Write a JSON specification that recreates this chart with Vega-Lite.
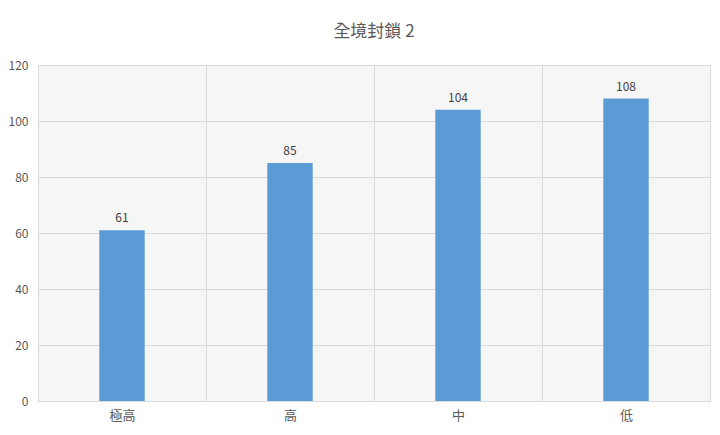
{
  "$schema": "https://vega.github.io/schema/vega-lite/v6.json",
  "description": "全境封鎖 2",
  "autosize": "none",
  "width": 672,
  "height": 336,
  "padding": {"left": 38, "top": 65, "right": 10, "bottom": 34},
  "background": "white",
  "title": {
    "text": "全境封鎖 2",
    "font": "Noto Sans CJK TC",
    "fontSize": 17,
    "fontWeight": "normal",
    "color": "#595959",
    "offset": 18
  },
  "data": {
    "values": [
      {"level": "極高", "count": 61},
      {"level": "高", "count": 85},
      {"level": "中", "count": 104},
      {"level": "低", "count": 108}
    ]
  },
  "encoding": {
    "x": {
      "field": "level",
      "type": "nominal",
      "sort": null,
      "scale": {"paddingInner": 0, "paddingOuter": 0},
      "axis": {
        "title": null,
        "tickBand": "extent",
        "grid": true,
        "gridColor": "#dadada",
        "ticks": false,
        "domainColor": "#d9d9d9",
        "labelAngle": 0,
        "labelPadding": 8,
        "labelFont": "Noto Sans CJK TC",
        "labelFontSize": 13,
        "labelColor": "#595959"
      }
    },
    "y": {
      "field": "count",
      "type": "quantitative",
      "scale": {"domain": [0, 120]},
      "axis": {
        "title": null,
        "values": [0, 20, 40, 60, 80, 100, 120],
        "gridColor": "#dadada",
        "ticks": false,
        "domain": false,
        "labelPadding": 10,
        "labelFont": "Noto Sans CJK TC",
        "labelFontSize": 12,
        "labelColor": "#595959"
      }
    }
  },
  "layer": [
    {
      "mark": {"type": "bar", "color": "#5b9bd5", "width": {"band": 0.27}}
    },
    {
      "mark": {
        "type": "text",
        "baseline": "bottom",
        "dy": -5,
        "font": "Noto Sans CJK TC",
        "fontSize": 12,
        "color": "#404040"
      },
      "encoding": {"text": {"field": "count", "type": "quantitative"}}
    }
  ],
  "config": {
    "view": {"fill": "#f6f6f6", "stroke": "#dcdcdc"}
  }
}
